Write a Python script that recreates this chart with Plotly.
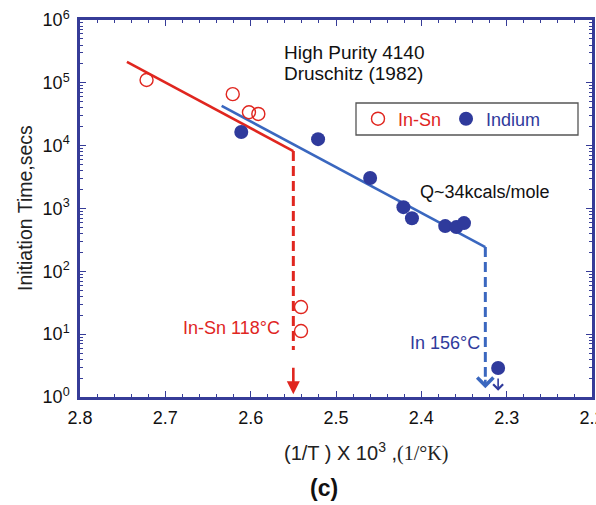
import plotly.graph_objects as go

# ---- data ----
insn_x = [2.722, 2.621, 2.602, 2.591, 2.541, 2.541]
insn_y = [1.11e5, 6.6e4, 3.4e4, 3.2e4, 27, 11.2]

indium_x = [2.611, 2.521, 2.460, 2.421, 2.411, 2.372, 2.359, 2.350, 2.310]
indium_y = [1.65e4, 1.27e4, 3.05e3, 1.05e3, 700, 525, 506, 586, 2.9]

red_fit_x = [2.745, 2.550]
red_fit_y = [2.15e5, 8.2e3]
blue_fit_x = [2.634, 2.325]
blue_fit_y = [4.3e4, 243]

red_drop_x = [2.550, 2.550]
red_drop_y = [8.2e3, 5.6]
blue_drop_x = [2.325, 2.325]
blue_drop_y = [243, 2.1]

xtick_vals = [2.8, 2.7, 2.6, 2.5, 2.4, 2.3, 2.2]
xtick_text = ["2.8", "2.7", "2.6", "2.5", "2.4", "2.3", "2.2"]
ytick_vals = [1, 10, 100, 1e3, 1e4, 1e5, 1e6]
ytick_text = ["10<sup>0</sup>", "10<sup>1</sup>", "10<sup>2</sup>", "10<sup>3</sup>",
              "10<sup>4</sup>", "10<sup>5</sup>", "10<sup>6</sup>"]

RED = "#e0261f"
LBLUE = "#3a67bf"
DBLUE = "#2f3a9c"
AXC = "#363c98"
FONT = "Arial, Liberation Sans, sans-serif"

fig = go.Figure()

fig.add_trace(go.Scatter(x=red_fit_x, y=red_fit_y, mode="lines",
                         line=dict(color=RED, width=2.6), showlegend=False))
fig.add_trace(go.Scatter(x=blue_fit_x, y=blue_fit_y, mode="lines",
                         line=dict(color=LBLUE, width=2.6), showlegend=False))
fig.add_trace(go.Scatter(x=red_drop_x, y=red_drop_y, mode="lines",
                         line=dict(color=RED, width=3, dash="10px,5px"), showlegend=False))
fig.add_trace(go.Scatter(x=blue_drop_x, y=blue_drop_y, mode="lines",
                         line=dict(color=LBLUE, width=3, dash="10px,5px"), showlegend=False))

fig.add_trace(go.Scatter(x=insn_x, y=insn_y, mode="markers",
                         name="<span style='color:%s'>In-Sn</span>" % RED,
                         marker=dict(symbol="circle-open", size=13, color=RED,
                                     line=dict(width=1.4, color=RED))))
fig.add_trace(go.Scatter(x=indium_x, y=indium_y, mode="markers",
                         name="<span style='color:%s'>Indium</span>" % DBLUE,
                         marker=dict(symbol="circle", size=14, color=DBLUE)))

ann = []
def txt(x, y, t, color="#111", size=18, xanchor="center", **kw):
    ann.append(dict(x=x, y=y, xref="x", yref="y", text=t, showarrow=False,
                    font=dict(color=color, size=size, family=FONT),
                    xanchor=xanchor, yanchor="middle", **kw))

txt(2.563, 5.49, "High Purity 4140", size=19, xanchor="left")
txt(2.563, 5.156, "Druschitz (1982)", size=19, xanchor="left")
txt(2.325, 3.261, "Q~34kcals/mole", size=18)
txt(2.623, 1.096, "In-Sn 118°C", color=RED, size=18)
txt(2.372, 0.857, "In 156°C", color=DBLUE, size=18)

# arrows
ann.append(dict(x=2.55, y=0.045, ax=2.55, ay=0.49, xref="x", yref="y", axref="x", ayref="y",
                showarrow=True, arrowhead=2, arrowsize=1.0, arrowwidth=2.6, arrowcolor=RED, text=""))
ann.append(dict(x=2.325, y=0.14, ax=2.325, ay=0.30, xref="x", yref="y", axref="x", ayref="y",
                showarrow=True, arrowhead=4, arrowsize=1.2, arrowwidth=2.6, arrowcolor=LBLUE, text=""))
ann.append(dict(x=2.31, y=0.10, ax=2.31, ay=0.32, xref="x", yref="y", axref="x", ayref="y",
                showarrow=True, arrowhead=4, arrowsize=1.2, arrowwidth=1.6, arrowcolor=DBLUE, text=""))

# axis titles and caption
ann.append(dict(x=(366 - 80) / 512, y=-(452 - 397) / 377, xref="paper", yref="paper",
                text="(1/T ) X 10<sup>3</sup> ,<span style='font-family:Liberation Serif, Times New Roman, serif'>(1/°K)</span>",
                showarrow=False, font=dict(size=20, color="#222", family=FONT),
                xanchor="center", yanchor="middle"))
ann.append(dict(x=(324 - 80) / 512, y=-(488 - 397) / 377, xref="paper", yref="paper",
                text="<b>(c)</b>", showarrow=False, font=dict(size=23, color="#111", family=FONT),
                xanchor="center", yanchor="middle"))
ann.append(dict(x=-(80 - 25) / 512, y=(397 - 208) / 377, xref="paper", yref="paper",
                text="Initiation Time,secs", textangle=-90, showarrow=False,
                font=dict(size=19.5, color="#222", family=FONT),
                xanchor="center", yanchor="middle"))

# legend frame
shapes = [dict(type="rect", xref="paper", yref="paper",
               x0=(356 - 80) / 512, x1=(578 - 80) / 512,
               y0=(397 - 135) / 377, y1=(397 - 103) / 377,
               line=dict(color="#555", width=1.3), fillcolor="rgba(0,0,0,0)", layer="above")]

fig.update_layout(
    width=596, height=505,
    margin=dict(l=80, r=4, t=20, b=108, autoexpand=False),
    paper_bgcolor="white", plot_bgcolor="white",
    font=dict(family=FONT, size=18, color="#111"),
    annotations=ann, shapes=shapes,
    legend=dict(orientation="h", x=(358 - 80) / 512, y=(397 - 119) / 377,
                xanchor="left", yanchor="middle",
                bgcolor="rgba(0,0,0,0)", borderwidth=0,
                font=dict(size=18, family=FONT), itemwidth=30),
)

fig.update_xaxes(range=[2.8, 2.19999], tickvals=xtick_vals, ticktext=xtick_text,
                 ticklabeloverflow="allow", automargin=False,
                 showgrid=False, zeroline=False,
                 showline=True, linecolor=AXC, linewidth=2.5, mirror="allticks",
                 ticks="inside", ticklen=6, tickwidth=1.2, tickcolor=AXC,
                 tickfont=dict(size=18, color="#111", family=FONT),
                 ticklabelstandoff=3,
                 minor=dict(tick0=2.2, dtick=0.02, ticks="inside", ticklen=3, tickwidth=1, tickcolor=AXC))
fig.update_yaxes(type="log", range=[0, 6], tickvals=ytick_vals, ticktext=ytick_text,
                 automargin=False,
                 showgrid=False, zeroline=False,
                 showline=True, linecolor=AXC, linewidth=2.5, mirror="allticks",
                 ticks="inside", ticklen=6, tickwidth=1.2, tickcolor=AXC,
                 tickfont=dict(size=18, color="#111", family=FONT),
                 ticklabelstandoff=4,
                 minor=dict(dtick="D1", ticks="inside", ticklen=3.5, tickwidth=1, tickcolor=AXC))

fig.write_html("out.html")
